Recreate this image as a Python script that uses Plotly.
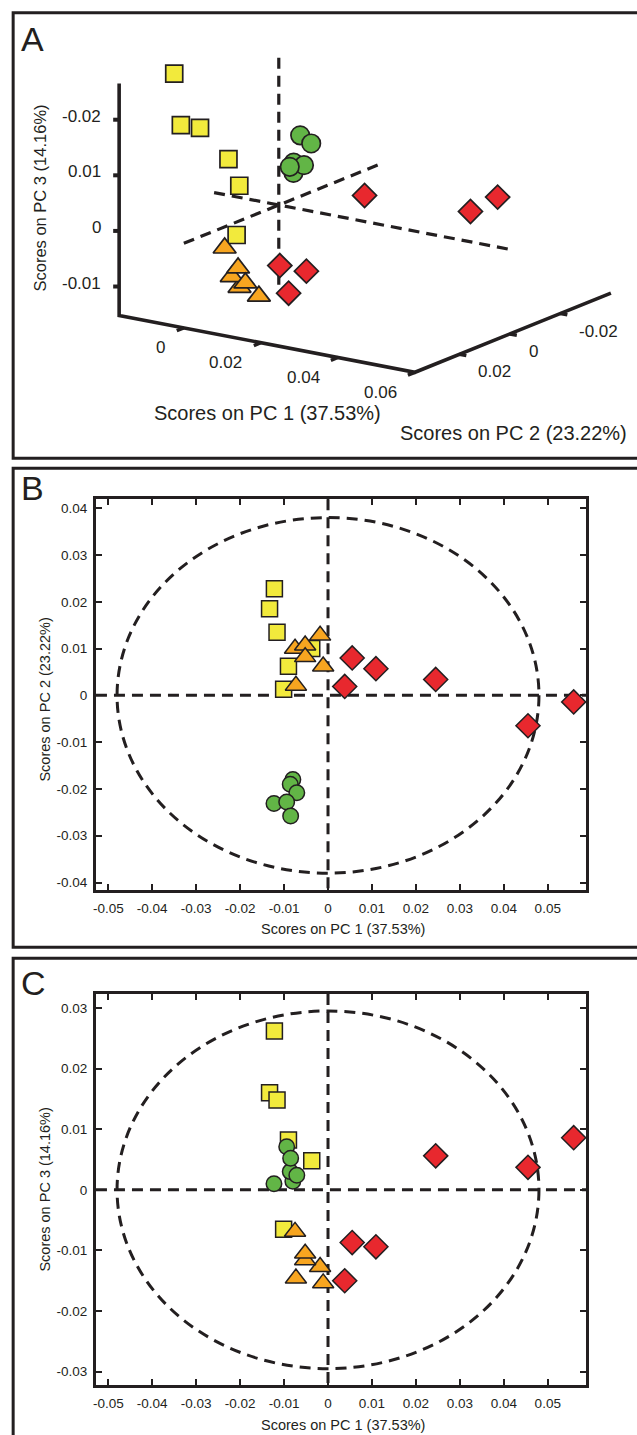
import plotly.graph_objects as go

W, H = 637, 1435
INK = "#231f20"
FONT = "Liberation Sans, Arial, Helvetica, sans-serif"

# ---------------- data: PCA scores (PC1, PC2, PC3) per group ----------------
sq_pc1 = [-0.0122, -0.0133, -0.0116, -0.0090, -0.0101, -0.0037]
sq_pc2 = [0.0228, 0.0185, 0.0135, 0.0062, 0.0013, 0.0100]
sq_pc3 = [0.0262, 0.0160, 0.0148, 0.0082, -0.0065, 0.0048]

ci_pc1 = [-0.0080, -0.0086, -0.0071, -0.0123, -0.0094, -0.0085]
ci_pc2 = [-0.0180, -0.0190, -0.0208, -0.0231, -0.0228, -0.0258]
ci_pc3 = [0.0014, 0.0030, 0.0024, 0.0010, 0.0071, 0.0052]

tr_pc1 = [-0.0018, -0.0075, -0.0052, -0.0052, -0.0011, -0.0073]
tr_pc2 = [0.0128, 0.0100, 0.0107, 0.0082, 0.0062, 0.0021]
tr_pc3 = [-0.0127, -0.0069, -0.0116, -0.0105, -0.0154, -0.0146]

di_pc1 = [0.0055, 0.0109, 0.0038, 0.0245, 0.0455, 0.0559]
di_pc2 = [0.0080, 0.0057, 0.0019, 0.0034, -0.0065, -0.0014]
di_pc3 = [-0.0087, -0.0094, -0.0150, 0.0056, 0.0037, 0.0086]

# confidence ellipse semi-axes (PC1, PCy)
ell_b = [0.048, 0.038]
ell_c = [0.048, 0.0295]

# tick values and labels
x_ticks = [-0.05, -0.04, -0.03, -0.02, -0.01, 0, 0.01, 0.02, 0.03, 0.04, 0.05]
x_ticktext = ["-0.05", "-0.04", "-0.03", "-0.02", "-0.01", "0", "0.01", "0.02", "0.03", "0.04", "0.05"]
yb_ticks = [-0.04, -0.03, -0.02, -0.01, 0, 0.01, 0.02, 0.03, 0.04]
yb_ticktext = ["-0.04", "-0.03", "-0.02", "-0.01", "0", "0.01", "0.02", "0.03", "0.04"]
yc_ticks = [-0.03, -0.02, -0.01, 0, 0.01, 0.02, 0.03]
yc_ticktext = ["-0.03", "-0.02", "-0.01", "0", "0.01", "0.02", "0.03"]

a_pc1_ticks = [0, 0.02, 0.04, 0.06]
a_pc1_ticktext = ["0", "0.02", "0.04", "0.06"]
a_pc2_ticks = [0.02, 0, -0.02]
a_pc2_ticktext = ["0.02", "0", "-0.02"]
a_pc3_ticks = [0.02, 0.01, 0, -0.01]
a_pc3_ticktext = ["-0.02", "0.01", "0", "-0.01"]

# panel A 3-D box limits
a_lim1 = [-0.0168, 0.06]
a_lim2 = [-0.040, 0.0376]
a_lim3 = [-0.0152, 0.0265]

# ---------------- panel A camera (orthographic projection to pixels) ----------------
CAM_O = (277.1, 205.0)
CAM_E1 = (3870.0, 740.0)
CAM_E2 = (-2537.0, 1020.0)
CAM_E3 = (0.0, -5560.0)


def proj(p1, p2, p3):
    xs, ys = [], []
    for a, b, c in zip(p1, p2, p3):
        if a is None:
            xs.append(None)
            ys.append(None)
            continue
        xs.append(CAM_O[0] + CAM_E1[0] * a + CAM_E2[0] * b + CAM_E3[0] * c)
        ys.append(CAM_O[1] + CAM_E1[1] * a + CAM_E2[1] * b + CAM_E3[1] * c)
    return xs, ys


groups = [
    dict(p=(sq_pc1, sq_pc2, sq_pc3), symbol="square", color="#f2ea3c", sA=17, sB=16),
    dict(p=(ci_pc1, ci_pc2, ci_pc3), symbol="circle", color="#62b546", sA=18.5, sB=15.5),
    dict(p=(tr_pc1, tr_pc2, tr_pc3), symbol="triangle-up", color="#f7a520", sA=20, sB=18.5),
    dict(p=(di_pc1, di_pc2, di_pc3), symbol="diamond", color="#e8282e", sA=18.5, sB=18.5),
]

fig = go.Figure()

# ---------------- panel A ----------------
L1, L2, L3 = a_lim1, a_lim2, a_lim3
dash = "11px,7px"
for seg in [
    ([0, 0], [0, 0], [L3[1], L3[0]]),
    ([L1[0], L1[1]], [0, 0], [0, 0]),
    ([0, 0], [L2[1], L2[0]], [0, 0]),
]:
    xs, ys = proj(*seg)
    fig.add_trace(go.Scatter(x=xs, y=ys, mode="lines", xaxis="x", yaxis="y",
                             line=dict(color=INK, width=3.2, dash=dash), hoverinfo="skip"))

xs, ys = proj([L1[0], L1[0], L1[1], L1[1]], [L2[1], L2[1], L2[1], L2[0]], [L3[1], L3[0], L3[0], L3[0]])
fig.add_trace(go.Scatter(x=xs, y=ys, mode="lines", xaxis="x", yaxis="y",
                         line=dict(color=INK, width=3.6), hoverinfo="skip"))

# tick marks
tk1, tk2, tk3 = [], [], []
TLEN2 = 0.0028   # PC1 ticks point toward +PC2
TLEN1 = 0.0018   # PC2 ticks point toward +PC1
for v in a_pc1_ticks:
    tk1 += [v, v, None]; tk2 += [L2[1], L2[1] + TLEN2, None]; tk3 += [L3[0], L3[0], None]
for v in a_pc2_ticks:
    tk1 += [L1[1], L1[1] + TLEN1, None]; tk2 += [v, v, None]; tk3 += [L3[0], L3[0], None]
xs, ys = proj(tk1, tk2, tk3)
fig.add_trace(go.Scatter(x=xs, y=ys, mode="lines", xaxis="x", yaxis="y",
                         line=dict(color=INK, width=3.5), hoverinfo="skip"))
px3, py3 = proj([L1[0]] * len(a_pc3_ticks), [L2[1]] * len(a_pc3_ticks), a_pc3_ticks)
zx, zy = [], []
for x0, y0 in zip(px3, py3):
    zx += [x0, x0 - 6, None]
    zy += [y0, y0, None]
fig.add_trace(go.Scatter(x=zx, y=zy, mode="lines", xaxis="x", yaxis="y",
                         line=dict(color=INK, width=4), hoverinfo="skip"))

for g in groups:
    xs, ys = proj(*g["p"])
    fig.add_trace(go.Scatter(x=xs, y=ys, mode="markers", xaxis="x", yaxis="y",
                             marker=dict(symbol=g["symbol"], size=g["sA"], color=g["color"],
                                         line=dict(color=INK, width=1.7)), hoverinfo="skip"))

annotations = []
tfA = dict(family=FONT, size=17, color=INK)
px, py = proj(a_pc1_ticks, [L2[1]] * 4, [L3[0]] * 4)
for x0, y0, t in zip(px, py, a_pc1_ticktext):
    annotations.append(dict(x=x0 - 16.5, y=y0 + 20, xref="x", yref="y", text=t, showarrow=False,
                            xanchor="right", yanchor="middle", font=tfA))
px, py = proj([L1[1]] * 3, a_pc2_ticks, [L3[0]] * 3)
for x0, y0, t in zip(px, py, a_pc2_ticktext):
    annotations.append(dict(x=x0 + 17, y=y0 + 17.5, xref="x", yref="y", text=t, showarrow=False,
                            xanchor="left", yanchor="middle", font=tfA))
for x0, y0, t in zip(px3, py3, a_pc3_ticktext):
    annotations.append(dict(x=x0 - 16, y=y0 - 3.5, xref="x", yref="y", text=t, showarrow=False,
                            xanchor="right", yanchor="middle", font=tfA))


def pa(x, y, text, size, angle=0):
    annotations.append(dict(x=x / W, y=1 - y / H, xref="paper", yref="paper", text=text,
                            showarrow=False, xanchor="center", yanchor="middle", textangle=angle,
                            font=dict(family=FONT, size=size, color=INK)))


pa(266, 413, "Scores on PC 1 (37.53%)", 20)
pa(513, 432.5, "Scores on PC 2 (23.22%)", 20)
pa(36.7, 198, "Scores on PC 3 (14.16%)", 16.5, -90)

# ---------------- panels B and C ----------------
for g in groups:
    p1, p2, p3 = g["p"]
    mk = dict(symbol=g["symbol"], size=g["sB"], color=g["color"], line=dict(color=INK, width=1.5))
    fig.add_trace(go.Scatter(x=p1, y=p2, mode="markers", xaxis="x2", yaxis="y2", marker=mk,
                             hoverinfo="skip", cliponaxis=False))
    fig.add_trace(go.Scatter(x=p1, y=p3, mode="markers", xaxis="x3", yaxis="y3", marker=mk,
                             hoverinfo="skip", cliponaxis=False))

shapes = []
for ax, ell in (("2", ell_b), ("3", ell_c)):
    dl = dict(color=INK, width=3, dash="11px,7px")
    shapes.append(dict(type="circle", xref="x" + ax, yref="y" + ax, x0=-ell[0], x1=ell[0],
                       y0=-ell[1], y1=ell[1], line=dl, layer="below"))
    shapes.append(dict(type="line", xref="x" + ax, yref="y" + ax + " domain", x0=0, x1=0, y0=1, y1=0,
                       line=dl, layer="below"))
    shapes.append(dict(type="line", xref="x" + ax + " domain", yref="y" + ax, x0=0, x1=1, y0=0, y1=0,
                       line=dl, layer="below"))

# panel frames
for top, bot in ((12.7, 458.3), (468.3, 947.3), (958.3, H + 20)):
    shapes.append(dict(type="rect", xref="paper", yref="paper", x0=10.2 / W, x1=(W + 20) / W,
                       y0=1 - bot / H, y1=1 - top / H, line=dict(color=INK, width=3),
                       fillcolor="rgba(0,0,0,0)", layer="above"))

pa(30, 38.5, "A", 34)
pa(30, 488.3, "B", 34)
pa(30.5, 983.3, "C", 34)

pa(341.3, 929.3, "Scores on PC 1 (37.53%)", 14.5)
pa(41.8, 700, "Scores on PC 2 (23.22%)", 14.5, -90)
pa(341.3, 1425, "Scores on PC 1 (37.53%)", 14.5)
pa(41.8, 1190, "Scores on PC 3 (14.16%)", 14.5, -90)

tickfont = dict(family=FONT, size=13.5, color=INK)
axis_common = dict(showline=True, linewidth=3, linecolor=INK, mirror="ticks", ticks="inside",
                   ticklen=6, tickwidth=2.2, tickcolor=INK, showgrid=False, zeroline=False,
                   tickfont=tickfont, fixedrange=True)
xdom = [93.4 / W, 586.2 / W]

fig.update_layout(
    width=W, height=H,
    margin=dict(l=0, r=0, t=0, b=0),
    paper_bgcolor="white", plot_bgcolor="rgba(0,0,0,0)",
    showlegend=False,
    xaxis=dict(domain=[0, 1], range=[0, W], visible=False, fixedrange=True),
    yaxis=dict(domain=[1 - 460 / H, 1], range=[460, 0], visible=False, fixedrange=True),
    xaxis2=dict(domain=xdom, range=[-0.0528, 0.0588], anchor="y2", tickvals=x_ticks,
                ticktext=x_ticktext, ticklabelstandoff=4, **axis_common),
    yaxis2=dict(domain=[1 - 890 / H, 1 - 499.3 / H], range=[-0.0416, 0.0419], anchor="x2",
                tickvals=yb_ticks, ticktext=yb_ticktext, ticklabelstandoff=3, **axis_common),
    xaxis3=dict(domain=xdom, range=[-0.0528, 0.0588], anchor="y3", tickvals=x_ticks,
                ticktext=x_ticktext, ticklabelstandoff=4, **axis_common),
    yaxis3=dict(domain=[1 - 1385 / H, 1 - 994 / H], range=[-0.0322, 0.0323], anchor="x3",
                tickvals=yc_ticks, ticktext=yc_ticktext, ticklabelstandoff=3, **axis_common),
    annotations=annotations,
    shapes=shapes,
)

fig.write_html("out.html")
